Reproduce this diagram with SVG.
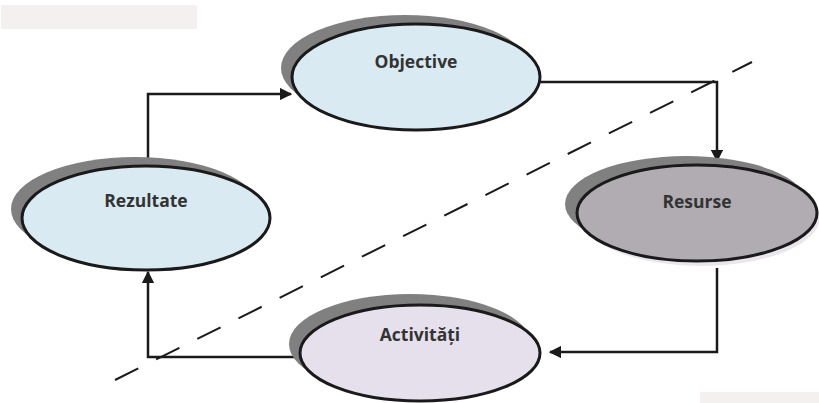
<svg xmlns="http://www.w3.org/2000/svg" width="819" height="403" viewBox="0 0 819 403">
<defs>
<style>
.sh{fill:#808080}
.el{stroke:#1a1a1a;stroke-width:3}
.lb{font-family:"Open Sans","Noto Sans",sans-serif;font-weight:bold;font-size:17.5px;fill:#333;text-anchor:middle}
.cn{fill:none;stroke:#1a1a1a;stroke-width:2.5}
</style>
<marker id="ah" viewBox="0 0 10 10" refX="9" refY="5" markerWidth="5" markerHeight="5" orient="auto" markerUnits="strokeWidth">
<path d="M0,0 L10,5 L0,10 z" fill="#1a1a1a"/>
</marker>
</defs>
<rect width="819" height="403" fill="#fff"/>
<rect x="1" y="5" width="196" height="24" fill="#f4f0ef"/>
<rect x="700" y="392" width="119" height="11" fill="#f4f0ef"/>
<line x1="115" y1="380" x2="752" y2="62" stroke="#1a1a1a" stroke-width="2" stroke-dasharray="26,20"/>
<g id="connectors">
<path class="cn" d="M148,165 V94 H291" marker-end="url(#ah)"/>
<path class="cn" d="M540,82 H717 V161" marker-end="url(#ah)"/>
<path class="cn" d="M717,268 V352 H550" marker-end="url(#ah)"/>
<path class="cn" d="M300,357 H148 V272" marker-end="url(#ah)"/>
</g>
<g id="objective">
<ellipse class="sh" cx="405" cy="68" rx="124" ry="53"/>
<ellipse class="el" cx="416" cy="77" rx="124" ry="53" fill="#daeaf2"/>
<text class="lb" x="416" y="68">Objective</text>
</g>
<g id="resurse">
<ellipse class="sh" cx="686" cy="204" rx="121" ry="48"/>
<ellipse cx="701" cy="217" rx="119" ry="49" fill="#ebe6ee"/>
<ellipse class="el" cx="697" cy="213" rx="120" ry="48" fill="#b1acb2"/>
<text class="lb" x="697" y="208">Resurse</text>
</g>
<g id="rezultate">
<ellipse class="sh" cx="135" cy="209" rx="124" ry="52"/>
<ellipse class="el" cx="146" cy="218" rx="124" ry="52" fill="#daeaf2"/>
<text class="lb" x="146" y="207">Rezultate</text>
</g>
<g id="activitati">
<ellipse class="sh" cx="410" cy="344" rx="121" ry="50"/>
<ellipse class="el" cx="420" cy="353" rx="120" ry="48" fill="#e6e0ec"/>
<text class="lb" x="420" y="341">Activități</text>
</g>
</svg>
